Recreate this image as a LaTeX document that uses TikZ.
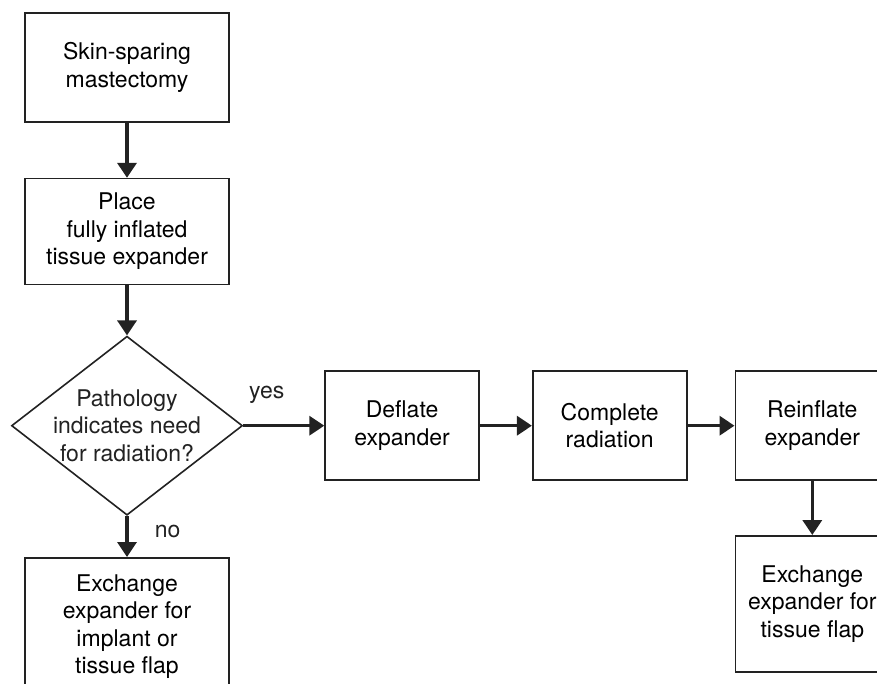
\documentclass[tikz,border=0pt]{standalone}
\usepackage{fontspec}
\setmainfont{TeX Gyre Heros}
\usetikzlibrary{arrows.meta, positioning, shapes.geometric}
\definecolor{CInk}{HTML}{222222}
\tikzset{
    procbox/.style={rectangle, draw=CInk, fill=white, minimum width=154pt, minimum height=109pt, align=center, font=\fontsize{23}{27.5}\selectfont, line width=1.6pt, inner sep=0pt},
    widebox/.style={procbox, minimum width=204pt},
    decision/.style={diamond, draw=CInk, fill=white, minimum width=231pt, minimum height=179pt, inner sep=0pt, line width=1.6pt},
    flowarrow/.style={-{Triangle[length=15pt, width=19pt]}, draw=CInk, line width=3.5pt},
    labeltext/.style={font=\fontsize{23}{27.5}\selectfont, text=CInk, inner sep=0pt}
}

\begin{document}
\begin{tikzpicture}[x=1pt, y=1pt]
    \useasboundingbox (0,0) rectangle (877,-684);
    \clip (0,0) rectangle (877,-684);

    % Nodes
    \node[widebox] (skin) at (127,-67.5) {Skin-sparing\\mastectomy};
    \node[widebox, below=55pt of skin, minimum height=106pt] (place) {Place\\fully inflated\\tissue expander};
    \node[decision, below=50pt of place] (pathq) {};
    \node[labeltext, align=center] (pathqtext) at (pathq) {Pathology\\indicates need\\for radiation?};
    \node[widebox, below=41pt of pathq, minimum height=138pt] (exchimp) {Exchange\\expander for\\implant or\\tissue flap};
    \node[procbox, right=81pt of pathq] (deflate) {Deflate\\expander};
    \node[procbox, right=52pt of deflate] (radiate) {Complete\\radiation};
    \node[procbox, right=47pt of radiate] (reinflate) {Reinflate\\expander};
    \node[procbox, below=54pt of reinflate, minimum height=136pt] (exchflap) {Exchange\\expander for\\tissue flap};

    % Paths
    \draw[flowarrow] (skin) -- (place);
    \draw[flowarrow] (place) -- (pathq);
    \draw[flowarrow] (pathq) -- node[labeltext, right=26pt, pos=0.37]{no} (exchimp);
    \draw[flowarrow] (pathq) -- node[labeltext, above=20pt, pos=0.29]{yes} (deflate);
    \draw[flowarrow] (deflate) -- (radiate);
    \draw[flowarrow] (radiate) -- (reinflate);
    \draw[flowarrow] (reinflate) -- (exchflap);
\end{tikzpicture}
\end{document}
